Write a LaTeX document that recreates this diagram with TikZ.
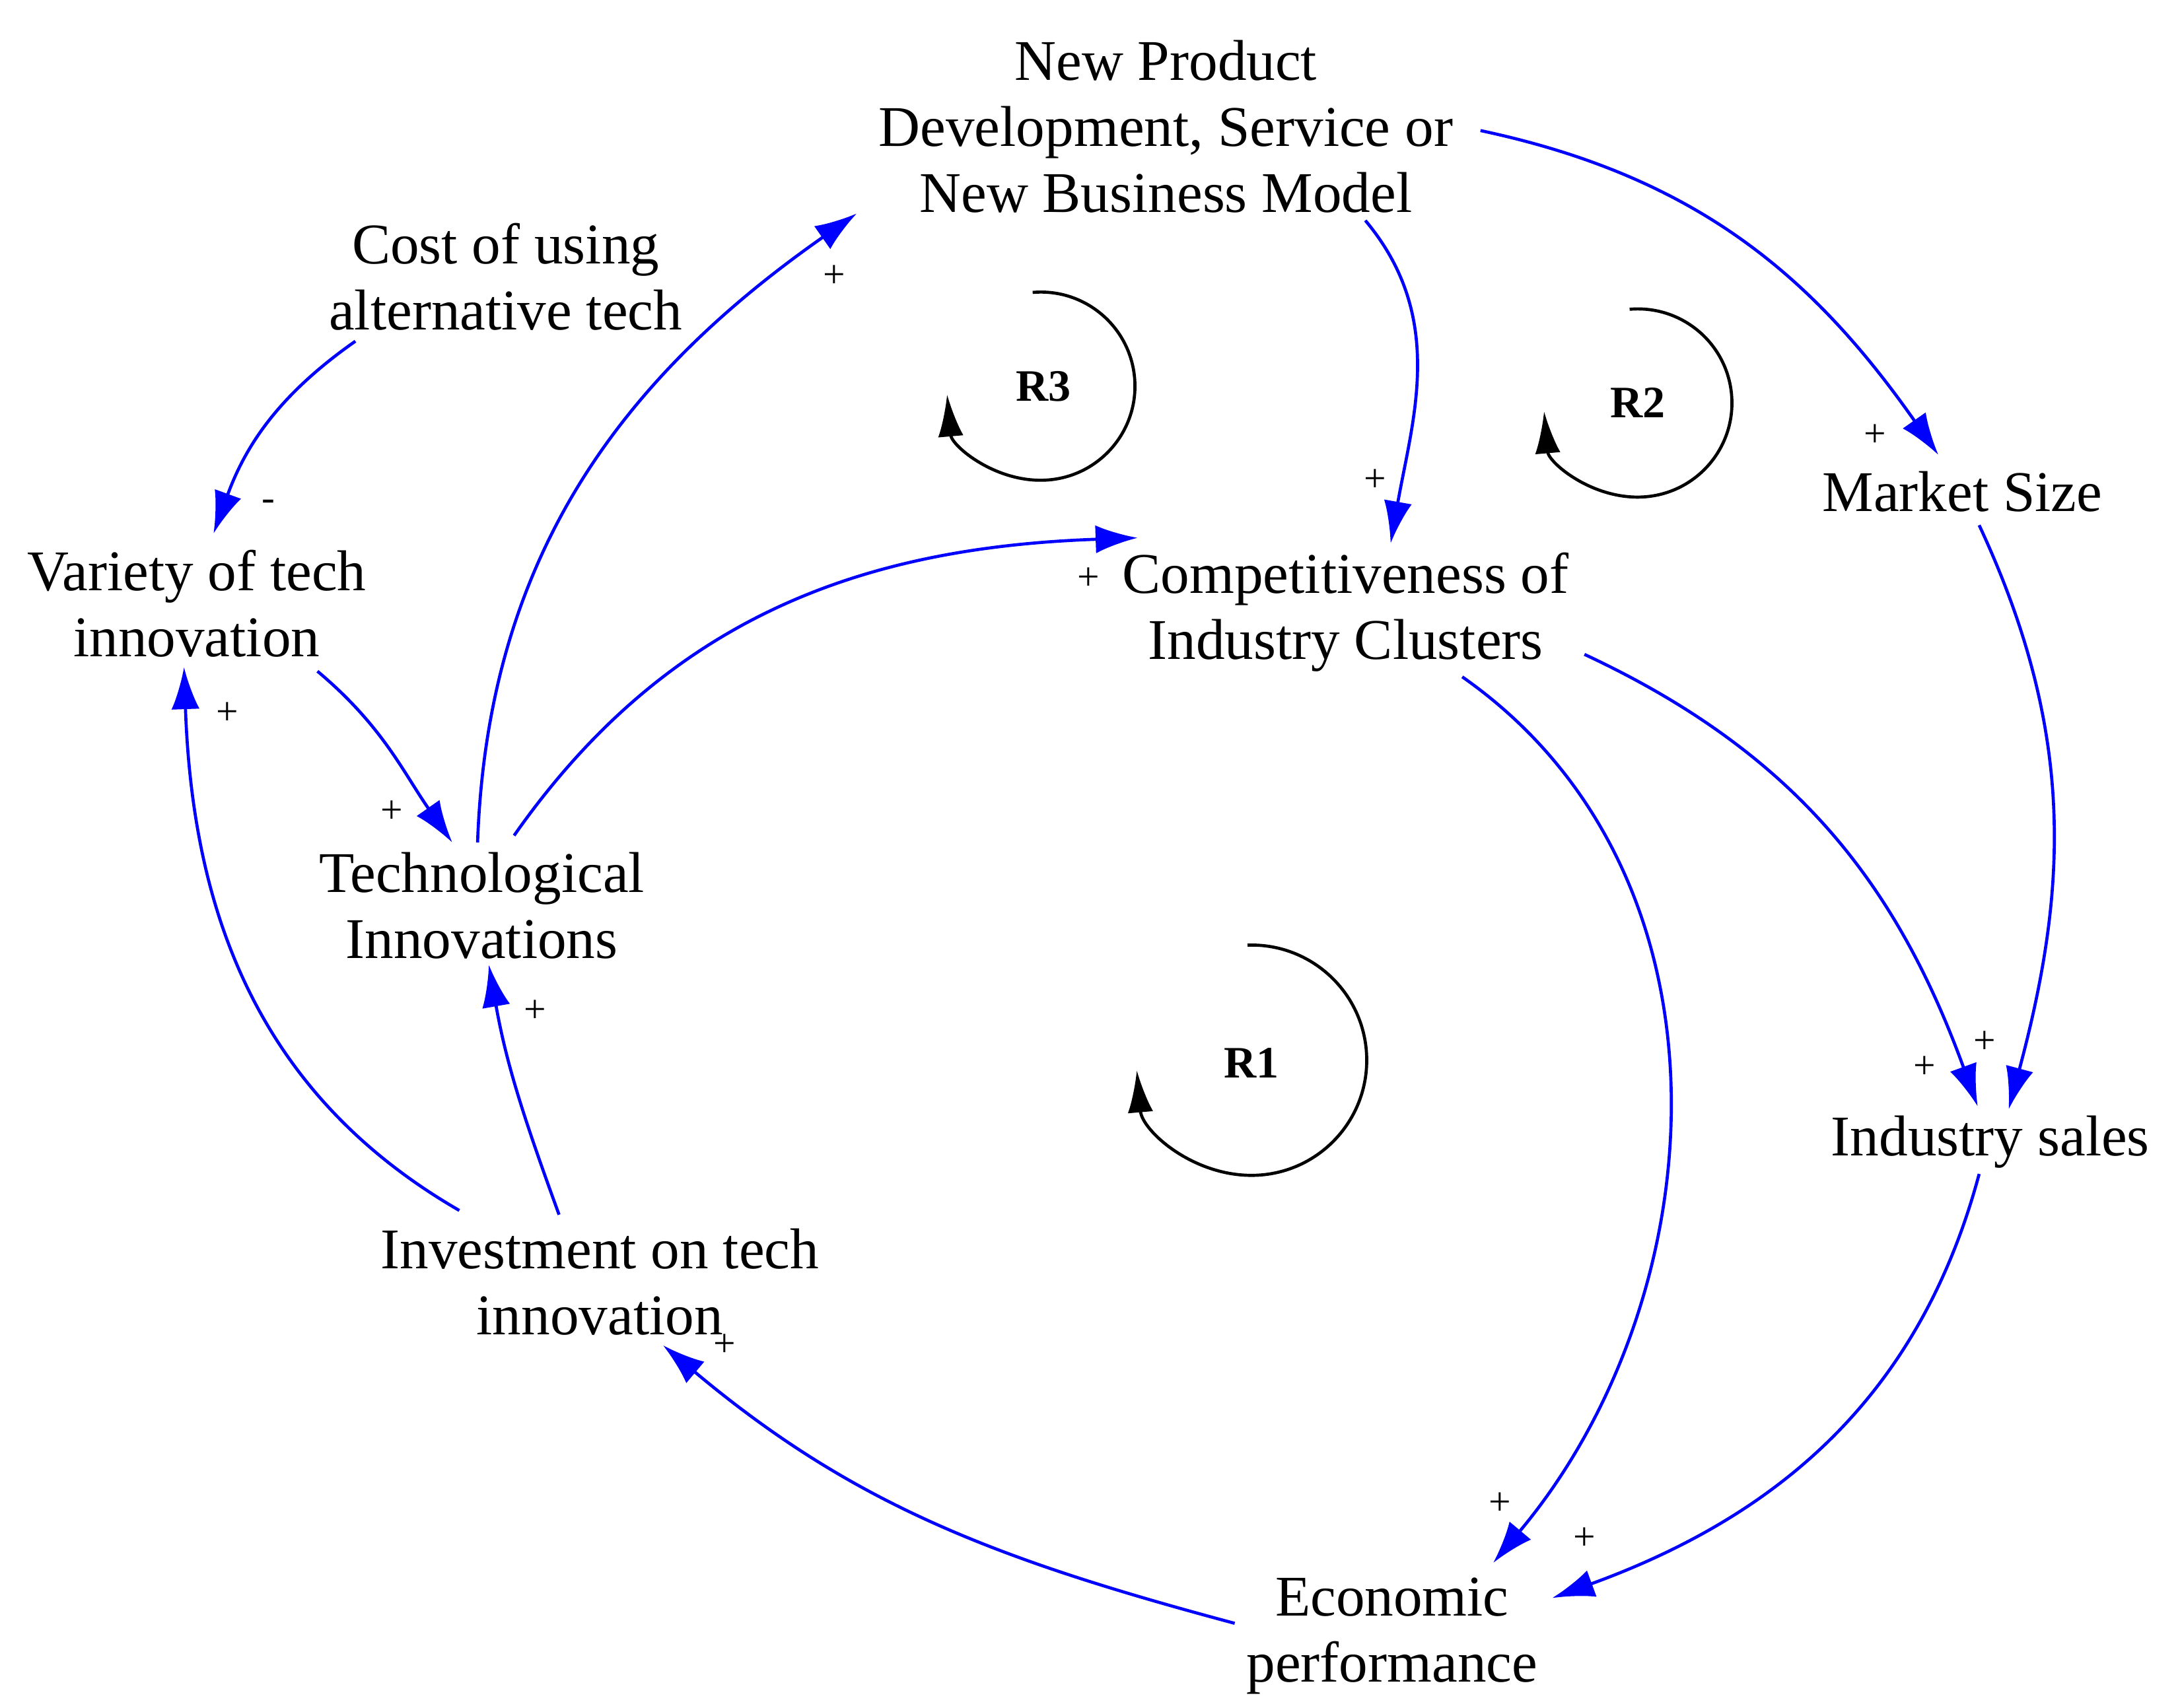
\documentclass[tikz,border=0pt]{standalone}
\usepackage{fontspec}
\setmainfont{Liberation Serif}
\usetikzlibrary{arrows.meta}
\begin{document}
\begin{tikzpicture}[x=0.5pt,y=0.5pt,
  lbl/.style={align=center,font=\fontsize{20.5}{23.5}\selectfont,inner sep=0pt},
  pol/.style={font=\fontsize{14}{16}\selectfont,inner sep=0pt},
  link/.style={draw=blue,line width=1.1pt,-{Latex[length=15pt,width=10pt]}},
  loop/.style={draw=black,line width=1.1pt,-{Latex[length=15pt,width=9pt]}},
  rl/.style={font=\fontsize{16}{18}\selectfont\bfseries,inner sep=0pt}]
\useasboundingbox (0,0) rectangle (1552,1216);
\node[lbl] (np) at (830,1126) {New Product\\Development, Service or\\New Business Model};
\node[lbl] (cost) at (360,1019) {Cost of using\\alternative tech};
\node[lbl] (var) at (140,786) {Variety of tech\\innovation};
\node[lbl] (tech) at (343,571) {Technological\\Innovations};
\node[lbl] (comp) at (958,780) {Competitiveness of\\Industry Clusters};
\node[lbl] (mkt) at (1397,866) {Market Size};
\node[lbl] (sales) at (1417,403) {Industry sales};
\node[lbl] (inv) at (427,303) {Investment on tech\\innovation};
\node[lbl] (econ) at (991,51) {Economic\\performance};
% endpoints
\coordinate (a1) at (253,973); \coordinate (b1) at (152,836);
\coordinate (a2) at (226,738); \coordinate (b2) at (322,616);
\coordinate (a3) at (327,354); \coordinate (b3) at (131,741);
\coordinate (a4) at (398,351); \coordinate (b4) at (348,529);
\coordinate (a5) at (340,616); \coordinate (b5) at (610,1064);
\coordinate (a6) at (366,621); \coordinate (b6) at (810,833);
\coordinate (a7) at (972,1059); \coordinate (b7) at (990,829);
\coordinate (a8) at (1054,1123); \coordinate (b8) at (1380,892);
\coordinate (a9) at (1128,750); \coordinate (b9) at (1408,428);
\coordinate (a10) at (1409,842); \coordinate (b10) at (1430,426);
\coordinate (a11) at (1041,734); \coordinate (b11) at (1063,103);
\coordinate (a12) at (1409,380); \coordinate (b12) at (1105,78);
\coordinate (a13) at (879,60); \coordinate (b13) at (472,258);
\draw[link] (a1) to[out=215,in=70] (b1);
\draw[link] (a2) to[out=-40,in=125] (b2);
\draw[link] (a3) to[out=150,in=-88] (b3);
\draw[link] (a4) to[out=110,in=-80] (b4);
\draw[link] (a5) to[out=88,in=215] (b5);
\draw[link] (a6) to[out=55,in=182] (b6);
\draw[link] (a7) to[out=-50,in=80] (b7);
\draw[link] (a8) to[out=-12,in=125] (b8);
\draw[link] (a9) to[out=-25,in=110] (b9);
\draw[link] (a10) to[out=-65,in=75] (b10);
\draw[link] (a11) to[out=-35,in=50] (b11);
\draw[link] (a12) to[out=-105,in=20] (b12);
\draw[link] (a13) to[out=165,in=-40] (b13);
% polarities
\node[pol] (p1) at (191,856) {-};
\node[pol] (p2) at (279,638) {+};
\node[pol] (p3) at (162,708) {+};
\node[pol] (p4) at (381,496) {+};
\node[pol] (p5) at (594,1019) {+};
\node[pol] (p6) at (775,804) {+};
\node[pol] (p7) at (979,874) {+};
\node[pol] (p8) at (1335,906) {+};
\node[pol] (p9) at (1370,456) {+};
\node[pol] (p10) at (1413,474) {+};
\node[pol] (p11) at (1068,145) {+};
\node[pol] (p12) at (1128,120) {+};
\node[pol] (p13) at (516,258) {+};
% loops
\node[rl] (r3) at (743,941) {R3};
\draw[loop] (741,941) ++(95:67) arc[start angle=95,end angle=-175,radius=67];
\node[rl] (r2) at (1166,929) {R2};
\draw[loop] (1166,929) ++(95:67) arc[start angle=95,end angle=-175,radius=67];
\node[rl] (r1) at (891,459) {R1};
\draw[loop] (891,461) ++(92:82) arc[start angle=92,end angle=-175,radius=82];
\end{tikzpicture}
\end{document}
